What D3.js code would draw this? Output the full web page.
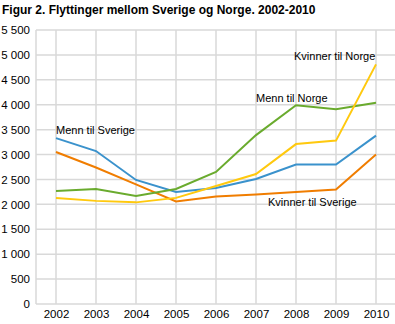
<!DOCTYPE html>
<html><head><meta charset="utf-8">
<script src="https://cdn.jsdelivr.net/npm/d3@7"></script>
<style>body{margin:0;background:#fff}svg{display:block;font-family:"Liberation Sans",Arial,sans-serif}</style>
</head><body><svg id="c" width="395" height="324"></svg>
<script>
const years = ["2002","2003","2004","2005","2006","2007","2008","2009","2010"];
const mennTilSverige = [3330,3070,2490,2250,2330,2510,2800,2800,3380];
const kvinnerTilSverige = [3050,2740,2400,2060,2160,2200,2250,2300,3000];
const mennTilNorge = [2270,2310,2170,2310,2650,3390,3990,3910,4040];
const kvinnerTilNorge = [2130,2070,2040,2130,2370,2610,3210,3280,4810];
const yTicks = [0,500,1000,1500,2000,2500,3000,3500,4000,4500,5000,5500];
const series = [
  {name:"Menn til Sverige", values:mennTilSverige, color:"#3a92cc", lx:56, ly:134, anchor:"start"},
  {name:"Kvinner til Sverige", values:kvinnerTilSverige, color:"#f07d00", lx:268, ly:206, anchor:"start"},
  {name:"Menn til Norge", values:mennTilNorge, color:"#6aab2e", lx:256, ly:102, anchor:"start"},
  {name:"Kvinner til Norge", values:kvinnerTilNorge, color:"#ffc90e", lx:294, ly:60, anchor:"start"}
];
const svg = d3.select("#c");
const x = d3.scalePoint().domain(years).range([36,396]).padding(0.5);
const y = d3.scaleLinear().domain([0,5500]).range([304,30]);
svg.append("text").attr("x",2).attr("y",14).attr("font-size","12px").attr("font-weight","bold").attr("fill","#000")
  .text("Figur 2. Flyttinger mellom Sverige og Norge. 2002-2010");
const g = svg.append("g");
g.selectAll(".hg").data(yTicks).join("line").attr("x1",36).attr("x2",395)
  .attr("y1",d=>y(d)).attr("y2",d=>y(d)).attr("stroke","#d9d9d9").attr("stroke-width",1.5);
g.selectAll(".vg").data(years).join("line").attr("x1",d=>x(d)).attr("x2",d=>x(d))
  .attr("y1",y(5500)).attr("y2",y(0)).attr("stroke","#d9d9d9").attr("stroke-width",1.5);
g.append("line").attr("x1",36).attr("x2",36).attr("y1",y(5500)).attr("y2",y(0)).attr("stroke","#d9d9d9").attr("stroke-width",1.5);
const yAxis = d3.axisLeft(y).tickValues(yTicks).tickSize(0).tickPadding(6)
  .tickFormat(d=>d3.format(",")(d).replace(/,/g,"\u00a0"));
const ya = svg.append("g").attr("transform","translate(36,0)").call(yAxis);
ya.select(".domain").remove();
ya.selectAll("text").attr("font-size","11.5px").attr("fill","#000").attr("font-family","Liberation Sans, Arial, sans-serif");
const xAxis = d3.axisBottom(x).tickSize(0).tickPadding(6);
const xa = svg.append("g").attr("transform","translate(0,304)").call(xAxis);
xa.select(".domain").remove();
xa.selectAll("text").attr("font-size","11.5px").attr("fill","#000").attr("font-family","Liberation Sans, Arial, sans-serif");
const line = d3.line().x((d,i)=>x(years[i])).y(d=>y(d));
series.forEach(s=>{
  svg.append("path").attr("d",line(s.values)).attr("fill","none").attr("stroke",s.color).attr("stroke-width",2);
});
series.forEach(s=>{
  svg.append("text").attr("x",s.lx).attr("y",s.ly).attr("font-size","11px").attr("fill","#000").attr("text-anchor",s.anchor).text(s.name);
});
</script></body></html>
